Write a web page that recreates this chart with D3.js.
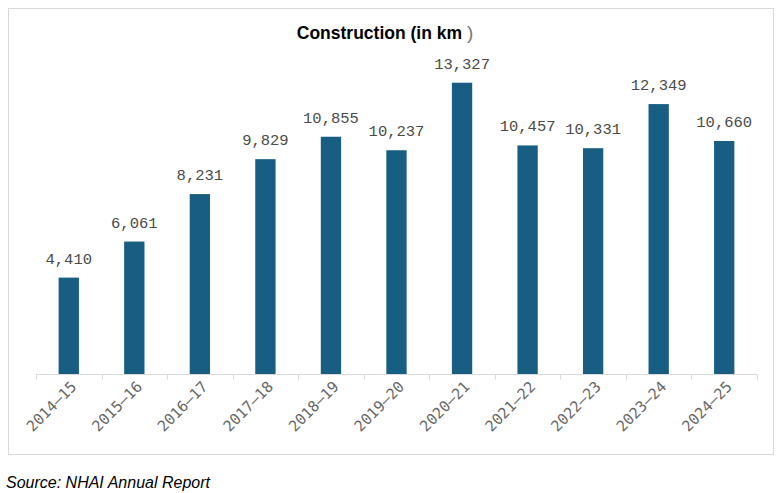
<!DOCTYPE html>
<html>
<head>
<meta charset="utf-8">
<script src="https://cdn.jsdelivr.net/npm/d3@7"></script>
<style>
  body { margin: 0; background: #fff; }
  svg { display: block; }
</style>
</head>
<body>
<svg id="chart"></svg>
<script>
const years = ['2014–15', '2015–16', '2016–17', '2017–18', '2018–19', '2019–20',
  '2020–21', '2021–22', '2022–23', '2023–24', '2024–25'];
const construction = [4410, 6061, 8231, 9829, 10855, 10237, 13327, 10457, 10331, 12349, 10660];

const W = 781, H = 493;
const svg = d3.select('#chart').attr('width', W).attr('height', H);

// chart frame
svg.append('rect')
  .attr('x', 8.5).attr('y', 8.5)
  .attr('width', 765).attr('height', 446)
  .attr('fill', '#fff').attr('stroke', '#d9d9d9');

const title = svg.append('text')
  .attr('x', 385).attr('y', 39)
  .attr('text-anchor', 'middle')
  .style('font-family', 'Arial, "Liberation Sans", sans-serif')
  .style('font-size', '17.5px');
title.append('tspan').style('font-weight', 'bold').text('Construction (in km ');
title.append('tspan').style('fill', '#777').style('font-size', '19px').text(')');

const x = d3.scaleBand().domain(years).range([36, 757])
  .paddingInner(0.69).paddingOuter(0.345);
const y = d3.scaleLinear().domain([0, 14000]).range([374, 68]);

// axis with ticks at category boundaries
const axis = svg.append('g').attr('transform', 'translate(0,374.5)');
axis.append('line')
  .attr('x1', 36).attr('x2', 757)
  .attr('stroke', '#d9d9d9');
const step = x.step();
axis.selectAll('line.tick')
  .data(d3.range(years.length + 1))
  .enter()
  .append('line')
  .attr('class', 'tick')
  .attr('x1', i => Math.round(36 + i * step) + 0.5)
  .attr('x2', i => Math.round(36 + i * step) + 0.5)
  .attr('y1', 0).attr('y2', 5)
  .attr('stroke', '#d9d9d9');

svg.selectAll('rect.bar')
  .data(construction)
  .enter()
  .append('rect')
  .attr('class', 'bar')
  .attr('x', (d, i) => x(years[i]))
  .attr('width', x.bandwidth())
  .attr('y', d => y(d))
  .attr('height', d => y(0) - y(d))
  .attr('fill', '#175e82');

svg.selectAll('text.val')
  .data(construction)
  .enter()
  .append('text')
  .attr('class', 'val')
  .attr('x', (d, i) => x(years[i]) + x.bandwidth() / 2)
  .attr('y', d => y(d) - 14)
  .attr('text-anchor', 'middle')
  .style('font-family', '"Liberation Mono", "Courier New", monospace')
  .style('font-size', '15.5px')
  .style('fill', '#4a4a4a')
  .text(d => d3.format(',')(d));

svg.selectAll('text.cat')
  .data(years)
  .enter()
  .append('text')
  .attr('class', 'cat')
  .attr('transform', d => 'translate(' + (x(d) + x.bandwidth() / 2 + 5) + ',384) rotate(-45)')
  .attr('text-anchor', 'end')
  .attr('dy', '0.35em')
  .style('font-family', '"DejaVu Sans Mono", monospace')
  .style('font-size', '15px')
  .style('fill', '#666')
  .text(d => d);

svg.append('text')
  .attr('x', 6).attr('y', 488)
  .style('font-family', 'Arial, "Liberation Sans", sans-serif')
  .style('font-style', 'italic')
  .style('font-size', '16px')
  .style('fill', '#000')
  .text('Source: NHAI Annual Report');
</script>
</body>
</html>
